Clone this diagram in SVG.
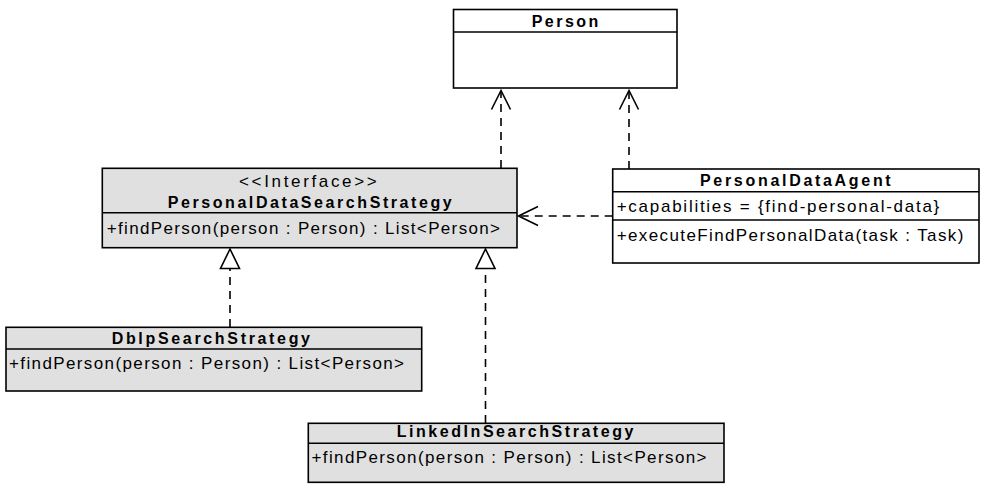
<svg xmlns="http://www.w3.org/2000/svg" width="981" height="484" viewBox="0 0 981 484">
<style>
.box{stroke:#000;stroke-width:1.6}
.w{fill:#fff}
.g{fill:#e0e0e0}
.div{stroke:#000;stroke-width:1.6;fill:none}
.t{font-family:"Liberation Sans",Arial,sans-serif;font-size:17px;fill:#000}
.b{font-family:"Liberation Sans",Arial,sans-serif;font-size:16px;font-weight:bold;fill:#000}
.dash{stroke:#000;stroke-width:1.6;fill:none;stroke-dasharray:8,6}
.head{stroke:#000;stroke-width:1.6;fill:none}
.tri{stroke:#000;stroke-width:1.6;fill:#fff}
</style>
<rect width="981" height="484" fill="#fff"/>
<g id="connectors">
<path class="dash" d="M501,168 V92"/>
<path class="head" d="M491.5,109.5 L501,90.5 L510.5,109.5"/>
<path class="dash" d="M629,169 V92"/>
<path class="head" d="M619.5,109.5 L629,90.5 L638.5,109.5"/>
<path class="dash" d="M612.7,216 H520"/>
<path class="head" d="M538,206.5 L518.5,216 L538,225.5"/>
<path class="dash" d="M230,327 V269"/>
<path class="tri" d="M230,249 L239.5,268.5 L220.5,268.5 Z"/>
<path class="dash" d="M485.5,423 V269.5"/>
<path class="tri" d="M485.5,249 L495,268.5 L476,268.5 Z"/>
</g>
<g id="Person">
<rect class="box w" x="453.5" y="9.5" width="223.5" height="78.5"/>
<path class="div" d="M453.5,32 H677"/>
<text class="b" x="531.7" y="27" textLength="66.7" lengthAdjust="spacing">Person</text>
</g>
<g id="PersonalDataSearchStrategy">
<rect class="box g" x="102.3" y="168.3" width="414.7" height="79.4"/>
<path class="div" d="M102.3,212.7 H517"/>
<text class="t" x="239" y="187" textLength="137.7" lengthAdjust="spacing">&lt;&lt;Interface&gt;&gt;</text>
<text class="b" x="167.7" y="208" textLength="284" lengthAdjust="spacing">PersonalDataSearchStrategy</text>
<text class="t" x="106.7" y="234" textLength="393.3" lengthAdjust="spacing">+findPerson(person : Person) : List&lt;Person&gt;</text>
</g>
<g id="PersonalDataAgent">
<rect class="box w" x="612.7" y="169" width="366.3" height="94"/>
<path class="div" d="M612.7,191.7 H979"/>
<path class="div" d="M612.7,220 H979"/>
<text class="b" x="700" y="186" textLength="190.7" lengthAdjust="spacing">PersonalDataAgent</text>
<text class="t" x="616.7" y="212" textLength="322.6" lengthAdjust="spacing">+capabilities = {find-personal-data}</text>
<text class="t" x="616.7" y="240.5" textLength="346.6" lengthAdjust="spacing">+executeFindPersonalData(task : Task)</text>
</g>
<g id="DblpSearchStrategy">
<rect class="box g" x="6" y="327.3" width="415.7" height="63.7"/>
<path class="div" d="M6,349 H421.7"/>
<text class="b" x="111.7" y="344" textLength="198.3" lengthAdjust="spacing">DblpSearchStrategy</text>
<text class="t" x="9" y="369" textLength="395" lengthAdjust="spacing">+findPerson(person : Person) : List&lt;Person&gt;</text>
</g>
<g id="LinkedInSearchStrategy">
<rect class="box g" x="308.3" y="423.3" width="415.7" height="59"/>
<path class="div" d="M308.3,443.3 H724"/>
<text class="b" x="396.7" y="437" textLength="236.7" lengthAdjust="spacing">LinkedInSearchStrategy</text>
<text class="t" x="311.5" y="462.5" textLength="395" lengthAdjust="spacing">+findPerson(person : Person) : List&lt;Person&gt;</text>
</g>
</svg>
